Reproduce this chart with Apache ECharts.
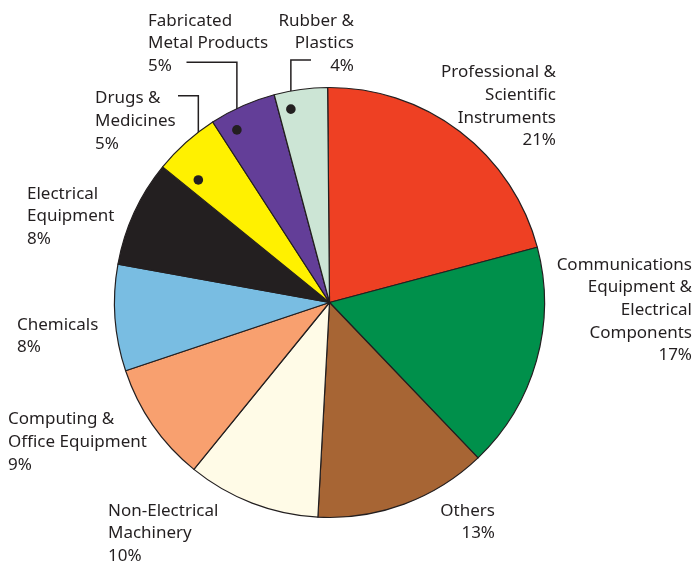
<!DOCTYPE html>
<html>
<head>
<meta charset="utf-8">
<script src="https://cdn.jsdelivr.net/npm/echarts@6/dist/echarts.min.js"></script>
<style>
  html, body { margin: 0; padding: 0; background: #ffffff; }
  #chart { width: 696px; height: 565px; }
</style>
</head>
<body>
<div id="chart"></div>
<script>
// Industry shares, clockwise from 12 o'clock
const categories = [
  'Professional &\nScientific\nInstruments',
  'Communications\nEquipment &\nElectrical\nComponents',
  'Others',
  'Non-Electrical\nMachinery',
  'Computing &\nOffice Equipment',
  'Chemicals',
  'Electrical\nEquipment',
  'Drugs &\nMedicines',
  'Fabricated\nMetal Products',
  'Rubber &\nPlastics'
];
const shares = [21, 17, 13, 10, 9, 8, 8, 5, 5, 4];

const palette = ['#ee4023', '#00904b', '#a76534', '#fffbe7', '#f8a06f',
                 '#79bde2', '#231f20', '#fff100', '#633e98', '#cce5d5'];

// Pie geometry
const CX = 329.5, CY = 302.5, R = 215, START = 90.5;

// Label block placement: [x, top, align]
const labelPos = [
  [556, 61, 'right'],
  [692, 253.5, 'right'],
  [495, 499.5, 'right'],
  [108, 499.5, 'left'],
  [8, 408, 'left'],
  [17, 313.5, 'left'],
  [27, 182.5, 'left'],
  [95, 87, 'left'],
  [148, 9.5, 'left'],
  [354, 9.5, 'right']
];

// Leader lines for the narrow slices: start of the horizontal run, and the
// dot anchor inside the slice (fraction through the slice, fraction of radius)
const leaders = {
  7: { x0: 178, y0: 95.7, t: 0.22, k: 0.835 },
  8: { x0: 186.5, y0: 62.3, t: 0.26, k: 0.911 },
  9: { x0: 311, y0: 60, t: 0.25, k: 0.917 }
};

const total = shares.reduce((a, b) => a + b, 0);
function anchorPoint(i, t, k) {
  let before = 0;
  for (let j = 0; j < i; j++) before += shares[j];
  const f = (before + t * shares[i]) / total;
  const a = (START - 360 * f) * Math.PI / 180;
  return [CX + R * k * Math.cos(a), CY - R * k * Math.sin(a)];
}
const dots = {};
Object.keys(leaders).forEach(key => {
  const L = leaders[key];
  dots[key] = anchorPoint(+key, L.t, L.k);
});

const chart = echarts.init(document.getElementById('chart'), null, { renderer: 'canvas' });

const textStyle = {
  color: '#231f20',
  fontFamily: 'Noto Sans',
  fontSize: 17,
  lineHeight: 22.7
};

chart.setOption({
  animation: false,
  backgroundColor: '#ffffff',
  series: [{
    type: 'pie',
    center: [CX, CY],
    radius: [0, R],
    startAngle: START,
    clockwise: true,
    avoidLabelOverlap: false,
    emphasis: { disabled: true },
    itemStyle: { borderColor: '#231f20', borderWidth: 1.2 },
    label: Object.assign({ show: true, position: 'outside', formatter: '{b}\n{c}%' }, textStyle),
    labelLine: { show: false },
    data: categories.map((name, i) => ({
      name: name,
      value: shares[i],
      itemStyle: { color: palette[i] },
      labelLine: leaders[i] ? { show: true, lineStyle: { color: '#231f20', width: 1.5 } } : { show: false }
    })),
    labelLayout: function (p) {
      const i = p.dataIndex;
      const pos = labelPos[i];
      const out = { x: pos[0], y: pos[1], align: pos[2], verticalAlign: 'top' };
      if (leaders[i]) {
        const L = leaders[i], d = dots[i];
        out.labelLinePoints = [[L.x0, L.y0], [d[0], L.y0], [d[0], d[1]]];
      }
      return out;
    }
  }],
  graphic: Object.keys(dots).map(key => ({
    type: 'circle',
    shape: { cx: dots[key][0], cy: dots[key][1], r: 4.8 },
    style: { fill: '#231f20' },
    z: 100
  }))
});
</script>
</body>
</html>
